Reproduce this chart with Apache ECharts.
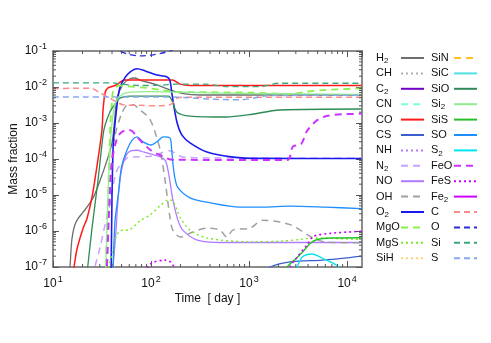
<!DOCTYPE html>
<html><head><meta charset="utf-8">
<script src="https://cdn.jsdelivr.net/npm/echarts@6/dist/echarts.min.js"></script>
<style>html,body{margin:0;padding:0;background:#fff}#c{width:491px;height:343px}</style>
</head><body><div id="c"></div>
<script>
// ---- axis ranges & tick values ----
const X_MIN = 10, X_MAX = 14200, Y_MIN = 1e-7, Y_MAX = 1e-1;
const xMinorTicks = [20,30,40,50,60,70,80,90,200,300,400,500,600,700,800,900,2000,3000,4000,5000,6000,7000,8000,9000];
const yMinorTicks = [2e-7,3e-7,4e-7,5e-7,6e-7,7e-7,8e-7,9e-7,2e-6,3e-6,4e-6,5e-6,6e-6,7e-6,8e-6,9e-6,
  2e-5,3e-5,4e-5,5e-5,6e-5,7e-5,8e-5,9e-5,2e-4,3e-4,4e-4,5e-4,6e-4,7e-4,8e-4,9e-4,
  2e-3,3e-3,4e-3,5e-3,6e-3,7e-3,8e-3,9e-3,2e-2,3e-2,4e-2,5e-2,6e-2,7e-2,8e-2,9e-2];

// ---- legend categories ----
const speciesCol1 = ['H2','CH','C2','CN','CO','CS','NH','N2','NO','OH','O2','MgO','MgS','SiH'];
const speciesCol2 = ['SiN','SiC','SiO','Si2','SiS','SO','S2','FeO','FeS','Fe2','C','O','Si','S'];

// ---- series values: [time (day), mass fraction] ----
const H2 = [[14.5,5e-8],[14.9,1e-7],[15.6,6e-7],[16.6,1.4e-6],[18,2.2e-6],[20,3.2e-6],[23,5.2e-6],[26,9e-6],[30,2.4e-5],[35.5,9e-5],[40,2.8e-4],[42.5,1.2e-3],[45,4.9e-3],[52,1.2e-2],[61,1.7e-2],[68,1.78e-2],[77,1.56e-2],[115,1.14e-2],[156,8.3e-3],[222,6.4e-3],[316,6e-3],[14000,6e-3]];
const CH = [];
const C2 = [];
const CN = [];
const CO = [[16,5e-8],[16.4,1e-7],[17.5,3e-7],[18.9,6.5e-7],[20.5,1.3e-6],[22.2,2.2e-6],[25,8.7e-6],[28,6e-5],[31.6,6.4e-4],[32.4,2.3e-3],[34,6.8e-3],[36.4,9.4e-3],[43,1.1e-2],[50.6,1.47e-2],[54,1.56e-2],[164,1.56e-2],[198,1.2e-2],[250,1.1e-2],[14000,1.1e-2]];
const CS = [[1450,7e-8],[1640,1e-7],[2620,1.38e-7],[5600,1.56e-7],[10000,1.8e-7],[14000,2e-7]];
const NH = [];
const N2 = [[26,5e-8],[26.8,1e-7],[30.2,3.5e-7],[34,1.5e-6],[36.4,3e-6],[40,1.2e-5],[45,4.9e-5],[57,1.05e-4],[66,1.14e-4],[100,1.2e-4],[124,1.45e-4],[156,1.7e-4],[180,1.4e-4],[211,1.14e-4],[400,1.07e-4],[14000,1.05e-4]];
const NO = [[40.5,5e-8],[41,1e-7],[44,1.06e-6],[46,7e-6],[50,4.9e-5],[56,1.3e-4],[63,1.7e-4],[72,1.75e-4],[85,1.55e-4],[124,1.14e-4],[140,9e-5],[149,4.9e-5],[160,1.5e-5],[167,7.3e-6],[188,2e-6],[211,1.06e-6],[296,5.6e-7],[506,4.8e-7],[14000,4.8e-7]];
const OH = [[35,5e-8],[35.5,1e-7],[37,1e-5],[40,1.2e-4],[43,4.6e-4],[50,1.8e-3],[57,3.1e-3],[66,3.2e-3],[77,2.3e-3],[91,1.6e-3],[100,1.1e-3],[110,5.5e-4],[124,1.78e-4],[139,2.6e-5],[156,2.4e-6],[167,1.06e-6],[198,6.8e-7],[268,9.4e-7],[372,1.2e-6],[506,1.06e-6],[593,6.8e-7],[685,1.06e-6],[1020,1.2e-6],[1390,2e-6],[2620,1.5e-6],[4500,6.4e-7],[6200,4.9e-7],[14000,4.7e-7]];
const O2 = [[38.8,5e-8],[39.2,1e-7],[40,1e-5],[41,2e-4],[41.8,4.6e-4],[45,3.2e-3],[48,9.4e-3],[54,1.8e-2],[61,2.6e-2],[72,3.2e-2],[87,2.8e-2],[115,2.15e-2],[146,1.9e-2],[156,1.5e-2],[164,6e-3],[184,1.05e-3],[207,4.6e-4],[250,2.8e-4],[372,1.56e-4],[685,1.13e-4],[1300,1.04e-4],[14000,1.03e-4]];
const MgO = [[34,5e-8],[34.5,1e-7],[35.5,1e-6],[36.5,1e-5],[37.5,1e-4],[38.5,1e-3],[40,4e-3],[41,7.5e-3],[48,1.1e-2],[57,1.05e-2],[90,9.4e-3],[124,8.3e-3],[170,7.4e-3],[300,7.2e-3],[1000,7.0e-3],[2600,6.4e-3],[4000,7.5e-3],[6200,8.3e-3],[14000,9.2e-3]];
const MgS = [[36,5e-8],[37,1e-7],[41,3e-7],[43,5.6e-7],[48,1e-6],[61,1.1e-6],[77,1.9e-6],[98,2.8e-6],[124,5e-6],[150,7.3e-6],[165,7e-6],[180,4.5e-6],[198,2.4e-6],[250,1.06e-6],[372,6.4e-7],[1020,5e-7],[2000,5.2e-7],[3300,5.8e-7],[4500,6.4e-7],[14000,5.8e-7]];
const SiH = [];
const SiN = [];
const SiC = [];
const SiO = [[22,5e-8],[22.6,1e-7],[25,1.2e-6],[28.8,2.6e-5],[32.4,4.6e-4],[34,8.8e-4],[38,2e-3],[43,3.4e-3],[48,4.9e-3],[61,5.6e-3],[150,5.6e-3],[165,4e-3],[184,2e-3],[250,1.56e-3],[590,1.47e-3],[1000,1.7e-3],[2070,2.3e-3],[14000,2.45e-3]];
const Si2 = [[34,5e-8],[34.6,1e-7],[35.5,1e-6],[36.5,1e-5],[38,1.5e-4],[40,1e-3],[43,3.4e-3],[48,5.5e-3],[57,7e-3],[100,7.4e-3],[170,7.2e-3],[300,7e-3],[1000,6.6e-3],[14000,6.2e-3]];
const SiS = [[2200,5e-8],[2450,1e-7],[3000,1.7e-7],[3600,2.8e-7],[4200,4.5e-7],[4950,5.8e-7],[6700,6.4e-7],[14000,6.5e-7]];
const SO = [[40,5e-8],[40.9,1e-7],[43,2e-6],[46,8.7e-6],[50,6e-5],[57,1.8e-4],[64,3.3e-4],[72,4.1e-4],[83,3e-4],[100,2.45e-4],[115,3e-4],[133,4.1e-4],[156,3.8e-4],[162,2e-4],[167,7.7e-5],[175,3e-5],[188,1.6e-5],[250,8.3e-6],[372,6.3e-6],[810,4.6e-6],[1400,4.6e-6],[2600,4.9e-6],[6000,4.6e-6],[14000,4.2e-6]];
const S2 = [[2900,6e-8],[3100,1e-7],[3500,1.9e-7],[4400,2.3e-7],[5600,1.75e-7],[7900,1.1e-7],[8600,8e-8]];
const FeO = [[35,5e-8],[35.5,1e-7],[37,2e-6],[38,1e-5],[40,8e-5],[43,2.5e-4],[48,5e-4],[57,6.4e-4],[64,6e-4],[72,4.1e-4],[98,1.8e-4],[130,1.2e-4],[167,9.5e-5],[2450,9.4e-5],[2800,2.2e-4],[3400,2.6e-4],[3900,6e-4],[4950,1.2e-3],[6200,1.56e-3],[9000,1.75e-3],[14000,1.8e-3]];
const FeS = [[85,5e-8],[98,1.2e-7],[139,1.55e-7],[160,1.35e-7],[175,9e-8],[200,4e-8],[2400,4e-8],[2620,1e-7],[3100,1.9e-7],[3900,4.1e-7],[4500,7e-7],[6700,8.6e-7],[14000,9.8e-7]];
const Fe2 = [];
const C = [[10,9.0e-3],[16,9.2e-3],[24,9.3e-3],[30,7e-3],[38,4.9e-3],[45,3.8e-3],[52,3.2e-3],[77,3.1e-3],[120,3.0e-3],[156,3.2e-3],[170,3.8e-3],[182,4.8e-3],[207,5.2e-3],[14000,5.2e-3]];
const O = [[10,0.3],[40,0.13],[48,0.1],[60,0.08],[77,0.073],[100,0.077],[130,0.088],[156,0.1],[200,0.13],[1000,0.2],[14000,0.2]];
const Si = [[10,1.3e-2],[40,1.3e-2],[48,1.22e-2],[77,1.1e-2],[130,1.12e-2],[180,1.2e-2],[350,1.2e-2],[600,1.02e-2],[1300,1.02e-2],[2000,1.27e-2],[14000,1.27e-2]];
const S = [[10,5.3e-3],[160,5.3e-3],[250,5.0e-3],[400,4.6e-3],[810,4.4e-3],[1200,5.1e-3],[1640,5.8e-3],[14000,5.9e-3]];

const seriesData = {H2,CH,C2,CN,CO,CS,NH,N2,NO,OH,O2,MgO,MgS,SiH,SiN,SiC,SiO,Si2,SiS,SO,S2,FeO,FeS,Fe2,C,O,Si,S};

// ---- styles (color, dash, width) ----
const DASH = [7,5], DOT = [2,3], ADASH = [6,4];
const styles = {
  H2:['#6e6e6e','solid',1.3], CH:['#b0b0b0',DOT,1.2], C2:['#7000c8','solid',1.2], CN:['#7fffd0',DASH,1.2],
  CO:['#ff1a1a','solid',1.5], CS:['#3a5fcd','solid',1.2], NH:['#b57cff',DOT,1.2], N2:['#c8a2ff',DASH,1.5],
  NO:['#b07cff','solid',1.3], OH:['#a0a0a0',DASH,1.5], O2:['#1a1aee','solid',1.6], MgO:['#8cf04a',DASH,1.8],
  MgS:['#7aea1e',DOT,1.4], SiH:['#ffd070',DOT,1.4], SiN:['#ffc020',DASH,1.3], SiC:['#50e0e0','solid',1.3],
  SiO:['#2e8b57','solid',1.3], Si2:['#90ee90','solid',1.3], SiS:['#28c028','solid',1.4], SO:['#1e8fff','solid',1.3],
  S2:['#00e5ee','solid',1.3], FeO:['#cc33ff',DASH,2], FeS:['#cc00ff',DOT,1.6], Fe2:['#d000ff','solid',1.3],
  C:['#ff8a8a',ADASH,1.5], O:['#2a2ad8',ADASH,1.3], Si:['#3aa878',ADASH,1.3], S:['#86a8f0',ADASH,1.5]
};

const allSpecies = speciesCol1.concat(speciesCol2);
const series = allSpecies.map(n => ({
  name: n, type: 'line', data: seriesData[n], showSymbol: false, symbol: 'none',
  smooth: 0.3, clip: true,
  lineStyle: {color: styles[n][0], type: styles[n][1], width: styles[n][2]},
  itemStyle: {color: styles[n][0]}, z: 3
}));

const TICK = '#555';
series.push({
  type: 'custom', silent: true, z: 10, xAxisIndex: 0, yAxisIndex: 0,
  data: xMinorTicks.map(v => [v, Y_MIN]),
  renderItem: (p, api) => {
    const v = api.value(0);
    const a = api.coord([v, Y_MIN]), b = api.coord([v, Y_MAX]);
    return {type: 'group', children: [
      {type: 'line', shape: {x1: a[0], y1: a[1], x2: a[0], y2: a[1] - 3}, style: {stroke: TICK, lineWidth: 1}},
      {type: 'line', shape: {x1: b[0], y1: b[1], x2: b[0], y2: b[1] + 3}, style: {stroke: TICK, lineWidth: 1}}
    ]};
  }
});
series.push({
  type: 'custom', silent: true, z: 10, xAxisIndex: 0, yAxisIndex: 0,
  data: yMinorTicks.map(v => [X_MIN, v]),
  renderItem: (p, api) => {
    const v = api.value(1);
    const a = api.coord([X_MIN, v]), b = api.coord([X_MAX, v]);
    return {type: 'group', children: [
      {type: 'line', shape: {x1: a[0], y1: a[1], x2: a[0] + 3, y2: a[1]}, style: {stroke: TICK, lineWidth: 1}},
      {type: 'line', shape: {x1: b[0], y1: b[1], x2: b[0] - 3, y2: b[1]}, style: {stroke: TICK, lineWidth: 1}}
    ]};
  }
});

const FONT = 'Liberation Sans, Arial, sans-serif';
const powLabel = v => {
  const e = Math.log10(v), r = Math.round(e);
  if (Math.abs(e - r) > 1e-6) return '';
  return '{b|10}{s|' + r + '}';
};
const labelRich = {
  b: {fontSize: 12, fontFamily: FONT, color: '#111'},
  s: {fontSize: 9, fontFamily: FONT, color: '#111', padding: [0, 0, 8, 1]}
};
const frame = {show: true, lineStyle: {color: '#666', width: 1.5}};
const legendFmt = n => n.replace(/([A-Za-z]+)/g, '{t|$1}').replace(/(\d)/g, '{sub|$1}');
const legendText = w => ({fontSize: 11, fontFamily: FONT, color: '#111', width: w, height: 14, lineHeight: 14,
  rich: {
    t: {fontSize: 11, fontFamily: FONT, color: '#111', align: 'left'},
    sub: {fontSize: 8, fontFamily: FONT, color: '#111', align: 'left', padding: [6, 0, 0, 0]}
  }});

const option = {
  animation: false,
  backgroundColor: '#fff',
  grid: {left: 53, right: 129, top: 51, bottom: 76, containLabel: false, outerBoundsMode: 'none'},
  xAxis: [
    {type: 'log', logBase: 10, min: X_MIN, max: X_MAX, position: 'bottom',
     name: 'Time  [ day ]', nameLocation: 'middle', nameGap: 26, nameMoveOverlap: false,
     nameTextStyle: {fontSize: 12, fontFamily: FONT, color: '#111'},
     axisLine: frame, axisTick: {inside: true, length: 6, lineStyle: {color: TICK}},
     axisLabel: {formatter: powLabel, rich: labelRich, margin: 8, showMaxLabel: false},
     splitLine: {show: false}},
    {type: 'log', logBase: 10, min: X_MIN, max: X_MAX, position: 'top',
     axisLine: frame, axisTick: {inside: true, length: 6, lineStyle: {color: TICK}},
     axisLabel: {show: false}, splitLine: {show: false}}
  ],
  yAxis: [
    {type: 'log', logBase: 10, min: Y_MIN, max: Y_MAX, position: 'left',
     name: 'Mass fraction', nameLocation: 'middle', nameGap: 33, nameRotate: 90, nameMoveOverlap: false,
     nameTextStyle: {fontSize: 12, fontFamily: FONT, color: '#111'},
     axisLine: frame, axisTick: {inside: true, length: 6, lineStyle: {color: TICK}},
     axisLabel: {formatter: powLabel, rich: labelRich, margin: 6},
     splitLine: {show: false}},
    {type: 'log', logBase: 10, min: Y_MIN, max: Y_MAX, position: 'right',
     axisLine: frame, axisTick: {inside: true, length: 6, lineStyle: {color: TICK}},
     axisLabel: {show: false}, splitLine: {show: false}}
  ],
  legend: [
    {data: speciesCol1, orient: 'vertical', left: 376, top: 51, padding: 0, align: 'right',
     itemWidth: 23, itemHeight: 14, itemGap: 1.4, selectedMode: false,
     itemStyle: {opacity: 0}, formatter: legendFmt, textStyle: legendText(20)},
    {data: speciesCol2, orient: 'vertical', left: 431, top: 51, padding: 0, align: 'right',
     itemWidth: 23, itemHeight: 14, itemGap: 1.4, selectedMode: false,
     itemStyle: {opacity: 0}, formatter: legendFmt, textStyle: legendText(18)}
  ],
  series: series
};

const chart = echarts.init(document.getElementById('c'), null, {renderer: 'canvas'});
chart.setOption(option);
</script></body></html>
